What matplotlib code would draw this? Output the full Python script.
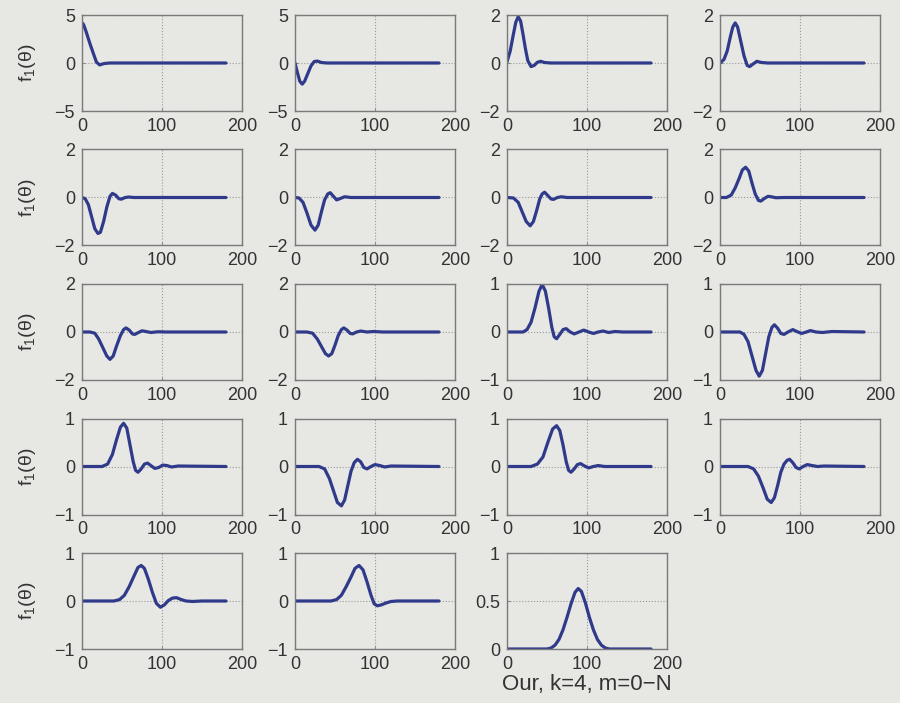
import matplotlib
matplotlib.use("Agg")
import matplotlib.pyplot as plt

plt.rcParams["font.family"] = ["Liberation Sans", "DejaVu Sans"]
plt.rcParams["mathtext.fontset"] = "custom"
plt.rcParams["mathtext.rm"] = "Liberation Sans"
plt.rcParams["mathtext.it"] = "Liberation Sans"

# sample points (theta in degrees, f1 value)
theta_pts = [
    [0, 2, 5, 10, 15, 18, 22, 28, 35, 180],
    [0, 3, 6, 9, 12, 16, 20, 24, 28, 33, 40, 180],
    [0, 4, 8, 11, 14, 17, 20, 23, 26, 30, 34, 38, 42, 47, 55, 180],
    [0, 5, 9, 13, 16, 19, 22, 26, 30, 34, 37, 41, 46, 52, 60, 180],
    [0, 4, 8, 12, 16, 20, 23, 27, 31, 35, 38, 42, 46, 49, 54, 58, 65, 180],
    [0, 5, 10, 15, 20, 25, 29, 33, 37, 41, 44, 48, 52, 56, 62, 70, 180],
    [0, 8, 14, 19, 24, 29, 33, 37, 41, 44, 47, 51, 55, 58, 63, 68, 75, 180],
    [0, 8, 14, 19, 24, 28, 32, 36, 40, 44, 48, 51, 55, 60, 64, 70, 80, 180],
    [0, 10, 16, 21, 26, 31, 35, 39, 43, 48, 52, 55, 59, 63, 66, 70, 75, 80, 86, 95, 105, 180],
    [0, 15, 22, 28, 33, 38, 42, 46, 50, 54, 58, 61, 65, 69, 72, 77, 82, 90, 98, 110, 180],
    [0, 20, 25, 30, 35, 40, 44, 48, 52, 56, 59, 62, 66, 70, 74, 79, 84, 90, 96, 102, 108, 114, 120, 127, 135, 145, 180],
    [0, 25, 30, 35, 40, 45, 49, 53, 57, 61, 65, 68, 72, 76, 80, 85, 91, 96, 102, 108, 113, 120, 128, 140, 180],
    [0, 25, 32, 38, 43, 48, 52, 56, 60, 64, 67, 70, 74, 78, 82, 86, 91, 96, 101, 106, 112, 120, 180],
    [0, 30, 37, 43, 48, 53, 58, 62, 66, 70, 74, 78, 82, 86, 90, 95, 100, 106, 112, 120, 180],
    [0, 30, 38, 45, 51, 57, 62, 66, 70, 74, 77, 80, 84, 88, 92, 97, 102, 108, 114, 122, 180],
    [0, 35, 42, 48, 54, 59, 64, 68, 72, 76, 80, 84, 87, 91, 95, 99, 104, 109, 115, 122, 130, 180],
    [0, 40, 47, 53, 59, 65, 70, 74, 78, 83, 88, 93, 98, 103, 108, 113, 118, 124, 130, 138, 150, 180],
    [0, 45, 52, 58, 64, 70, 75, 80, 85, 90, 95, 99, 103, 108, 114, 120, 128, 180],
    [0, 50, 55, 60, 65, 70, 75, 80, 85, 89, 93, 98, 103, 108, 113, 118, 123, 128, 180],
]
f1_pts = [
    [4.2, 4.0, 3.3, 2.0, 0.8, 0.1, -0.2, -0.05, 0, 0],
    [0, -1.0, -1.9, -2.2, -1.9, -1.1, -0.3, 0.15, 0.2, 0.05, 0, 0],
    [0.05, 0.5, 1.2, 1.7, 1.93, 1.75, 1.2, 0.6, 0.1, -0.15, -0.1, 0.03, 0.07, 0.02, 0, 0],
    [0, 0.15, 0.5, 1.1, 1.5, 1.67, 1.5, 0.9, 0.3, -0.1, -0.15, -0.05, 0.07, 0.02, 0, 0],
    [0, -0.05, -0.3, -0.8, -1.3, -1.5, -1.45, -1.0, -0.4, 0.05, 0.17, 0.1, -0.05, -0.07, 0.0, 0.02, 0, 0],
    [0, -0.02, -0.2, -0.65, -1.15, -1.36, -1.15, -0.6, -0.1, 0.15, 0.2, 0.05, -0.1, -0.05, 0.03, 0, 0],
    [0, -0.02, -0.2, -0.6, -1.0, -1.18, -1.0, -0.55, -0.05, 0.15, 0.22, 0.08, -0.06, -0.08, 0.0, 0.03, 0, 0],
    [0, 0.0, 0.1, 0.4, 0.8, 1.15, 1.26, 1.1, 0.6, 0.15, -0.12, -0.15, -0.05, 0.05, 0.03, -0.01, 0, 0],
    [0, 0, -0.05, -0.3, -0.65, -1.0, -1.14, -1.0, -0.6, -0.15, 0.1, 0.17, 0.08, -0.08, -0.1, -0.03, 0.05, 0.02, -0.02, 0.01, 0, 0],
    [0, 0, -0.05, -0.3, -0.6, -0.9, -1.0, -0.9, -0.55, -0.15, 0.1, 0.17, 0.08, -0.06, -0.08, 0.0, 0.04, 0.0, 0.02, 0, 0],
    [0, 0.0, 0.05, 0.2, 0.5, 0.85, 0.99, 0.85, 0.5, 0.1, -0.1, -0.14, -0.05, 0.05, 0.07, 0.0, -0.04, 0.0, 0.04, 0.0, -0.03, 0.0, 0.02, -0.01, 0.01, 0, 0],
    [0, 0, -0.05, -0.2, -0.5, -0.8, -0.92, -0.8, -0.45, -0.1, 0.1, 0.15, 0.08, -0.03, -0.05, 0.0, 0.05, 0.01, -0.03, 0.0, 0.03, 0.0, -0.01, 0.01, 0],
    [0, 0, 0.05, 0.25, 0.55, 0.82, 0.9, 0.8, 0.45, 0.1, -0.08, -0.12, -0.05, 0.05, 0.07, 0.02, -0.04, -0.02, 0.03, 0.02, -0.01, 0.01, 0],
    [0, 0, -0.05, -0.25, -0.5, -0.75, -0.82, -0.7, -0.4, -0.1, 0.08, 0.15, 0.1, -0.02, -0.05, 0.0, 0.04, 0.02, -0.01, 0.01, 0],
    [0, 0, 0.05, 0.2, 0.5, 0.78, 0.85, 0.75, 0.45, 0.1, -0.08, -0.12, -0.05, 0.04, 0.06, 0.01, -0.03, 0.0, 0.02, 0.0, 0],
    [0, 0, -0.05, -0.2, -0.45, -0.68, -0.75, -0.65, -0.4, -0.12, 0.05, 0.13, 0.15, 0.08, -0.02, -0.05, 0.0, 0.04, 0.02, 0.0, 0.01, 0],
    [0, 0, 0.03, 0.12, 0.3, 0.52, 0.7, 0.74, 0.68, 0.45, 0.18, -0.05, -0.13, -0.08, 0.01, 0.06, 0.07, 0.03, 0.0, -0.01, 0, 0],
    [0, 0, 0.03, 0.12, 0.3, 0.5, 0.68, 0.74, 0.65, 0.4, 0.12, -0.06, -0.1, -0.08, -0.04, -0.01, 0.0, 0],
    [0, 0, 0.01, 0.04, 0.1, 0.2, 0.33, 0.47, 0.59, 0.63, 0.6, 0.48, 0.33, 0.2, 0.1, 0.04, 0.01, 0, 0],
]
# y ticks of each panel
yticks = [[-5, 0, 5]] * 2 + [[-2, 0, 2]] * 8 + [[-1, 0, 1]] * 8 + [[0, 0.5, 1]]
xticks = [0, 100, 200]
ylabel = "f$_1$(\u03b8)"
caption = "Our, k=4, m=0\u2212N"

bg = "#e7e7e4"
line_color = "#2f3a8a"
text_color = "#333333"

fig = plt.figure(figsize=(9, 7.03), dpi=100, facecolor=bg)
W, H = 900, 703
col_left = [82, 295, 507, 720]
row_top = [15, 149.5, 284, 418.5, 553]
ax_w, ax_h = 160, 96

for i in range(len(f1_pts)):
    r, c = divmod(i, 4)
    ax = fig.add_axes([col_left[c] / W, 1 - (row_top[r] + ax_h) / H, ax_w / W, ax_h / H])
    ax.set_facecolor(bg)
    ax.plot(theta_pts[i], f1_pts[i], color=line_color, lw=2.3, solid_capstyle="round")
    ax.set_xlim(0, 200)
    ax.set_ylim(yticks[i][0], yticks[i][-1])
    ax.set_xticks(xticks)
    ax.set_yticks(yticks[i])
    ax.set_yticklabels([f"{t:g}".replace("-", "\u2212") for t in yticks[i]])
    ax.grid(True, linestyle=":", color="#9a9a9a", lw=0.8)
    ax.tick_params(direction="in", length=2, colors="#888888", labelcolor=text_color,
                   labelsize=13, pad=5)
    for s in ax.spines.values():
        s.set_color("#7a7a7a")
        s.set_linewidth(1.0)
    if c == 0:
        ax.set_ylabel(ylabel, fontsize=14, color=text_color, labelpad=12)
    if i == len(f1_pts) - 1:
        ax.set_xlabel(caption, fontsize=16, color=text_color, labelpad=1)

fig.savefig("out.png", dpi=100, facecolor=bg)
